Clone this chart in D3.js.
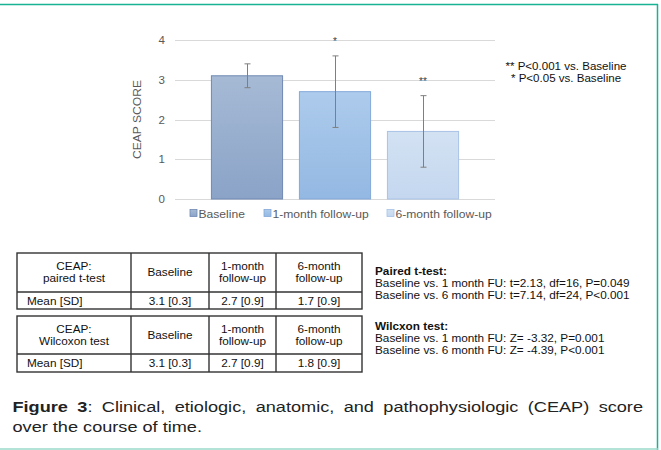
<!DOCTYPE html>
<html><head><meta charset="utf-8">
<script src="https://cdn.jsdelivr.net/npm/d3@7"></script>
<style>body{margin:0;background:#fff}svg{display:block;font-family:"Liberation Sans",Arial,sans-serif}</style>
</head><body>
<svg id="c" width="661" height="450"></svg>
<script>
const categories = ["Baseline", "1-month follow-up", "6-month follow-up"];
const means = [3.1, 2.7, 1.7];
const sds = [0.3, 0.9, 0.9];
const stars = ["", "*", "**"];
const yTicks = [0, 1, 2, 3, 4];
const sigNotes = ["** P<0.001 vs. Baseline", "* P<0.05 vs. Baseline"];
const table1Header = [["CEAP:", "paired t-test"], ["Baseline"], ["1-month", "follow-up"], ["6-month", "follow-up"]];
const table1Row = ["Mean [SD]", "3.1 [0.3]", "2.7 [0.9]", "1.7 [0.9]"];
const table2Header = [["CEAP:", "Wilcoxon test"], ["Baseline"], ["1-month", "follow-up"], ["6-month", "follow-up"]];
const table2Row = ["Mean [SD]", "3.1 [0.3]", "2.7 [0.9]", "1.8 [0.9]"];
const pairedText = ["Paired t-test:", "Baseline vs. 1 month FU: t=2.13, df=16, P=0.049", "Baseline vs. 6 month FU: t=7.14, df=24, P<0.001"];
const wilcoxText = ["Wilcxon test:", "Baseline vs. 1 month FU: Z= -3.32, P=0.001", "Baseline vs. 6 month FU: Z= -4.39, P<0.001"];
const captionBold = "Figure 3";
const captionLine1 = ": Clinical, etiologic, anatomic, and pathophysiologic (CEAP) score";
const captionLine2 = "over the course of time.";

const svg = d3.select("#c");

// text helper: horizontally stretched text (the reference type is slightly wide)
function txt(parent, x, y, s, o){
  o = Object.assign({size:10.5, anchor:"start", weight:"normal", fill:"#111", k:1.12}, o||{});
  const t = parent.append("text").attr("y", y).attr("fill", o.fill)
    .style("font-size", o.size+"px").style("font-weight", o.weight).text(s);
  const w = t.node().getComputedTextLength();
  const W = w*o.k;
  t.attr("textLength", W).attr("lengthAdjust","spacingAndGlyphs");
  const x0 = o.anchor==="middle" ? x - W/2 : o.anchor==="end" ? x - W : x;
  t.attr("x", x0);
  return t;
}

// frame
svg.append("line").attr("x1",0).attr("x2",658).attr("y1",4.5).attr("y2",4.5).attr("stroke","#17b394").attr("stroke-width",1.5);
svg.append("line").attr("x1",657.5).attr("x2",657.5).attr("y1",4).attr("y2",450).attr("stroke","#17b394").attr("stroke-width",1.5);
svg.append("line").attr("x1",0).attr("x2",658).attr("y1",449).attr("y2",449).attr("stroke","#9ad8c9").attr("stroke-width",1.5);

const fills = [["#a6bad5","#8aa3c7","#7089b4"],["#adcbec","#93b8e2","#83a9d8"],["#d3e2f3","#c4d7ef","#a9c3e6"]];
const defs = svg.append("defs");
fills.forEach((f,i)=>{
  const g = defs.append("linearGradient").attr("id","g"+i).attr("x1",0).attr("x2",0).attr("y1",0).attr("y2",1);
  g.append("stop").attr("offset","0%").attr("stop-color",f[0]);
  g.append("stop").attr("offset","100%").attr("stop-color",f[1]);
});

const y = d3.scaleLinear().domain([0,4]).range([199,40]);
const x = d3.scaleBand().domain(categories).range([175,495]).paddingInner(0.18).paddingOuter(0.408);

// gridlines
svg.append("g").selectAll("line").data(yTicks).join("line")
  .attr("x1",175).attr("x2",495).attr("y1",d=>Math.round(y(d))+0.5).attr("y2",d=>Math.round(y(d))+0.5)
  .attr("stroke","#d9d9d9").attr("stroke-width",1);

const yAxis = svg.append("g").attr("transform","translate(167,0)")
  .call(d3.axisLeft(y).tickValues(yTicks).tickSize(0).tickPadding(2).tickFormat(d3.format("d")));
yAxis.select(".domain").remove();
yAxis.selectAll("text").attr("fill","#595959").style("font-size","11.5px").style("font-family","Liberation Sans, Arial");

const yl = svg.append("g").attr("transform","translate(141,"+((y(0)+y(4))/2)+") rotate(-90)");
txt(yl, 0, 0, "CEAP SCORE", {size:11, anchor:"middle", fill:"#595959", k:1.1});

// bars
svg.append("g").selectAll("rect").data(categories).join("rect")
  .attr("x",d=>x(d)+0.5).attr("width",x.bandwidth()-1)
  .attr("y",(d,i)=>y(means[i])).attr("height",(d,i)=>y(0)-y(means[i]))
  .attr("fill",(d,i)=>"url(#g"+i+")").attr("stroke",(d,i)=>fills[i][2]).attr("stroke-width",1);

// error bars
const eb = svg.append("g").attr("stroke","#7f7f7f").attr("stroke-width",1);
categories.forEach((c,i)=>{
  const cx = Math.round(x(c)+x.bandwidth()/2)+0.5;
  const t = y(means[i]+sds[i]), b = y(means[i]-sds[i]);
  eb.append("line").attr("x1",cx).attr("x2",cx).attr("y1",t).attr("y2",b);
  eb.append("line").attr("x1",cx-3).attr("x2",cx+3).attr("y1",t).attr("y2",t);
  eb.append("line").attr("x1",cx-3).attr("x2",cx+3).attr("y1",b).attr("y2",b);
});
// stars
svg.append("g").selectAll("text").data(categories).join("text")
  .attr("x",d=>x(d)+x.bandwidth()/2).attr("y",(d,i)=>y(means[i]+sds[i])-11)
  .attr("text-anchor","middle").attr("fill","#404040").style("font-size","10px")
  .text((d,i)=>stars[i]);

// legend
const legX = [190, 264, 387];
const leg = svg.append("g");
categories.forEach((c,i)=>{
  leg.append("rect").attr("x",legX[i]).attr("y",209.5).attr("width",7).attr("height",7)
    .attr("fill","url(#g"+i+")").attr("stroke",fills[i][2]).attr("stroke-width",0.8);
  txt(leg, legX[i]+8.5, 217.5, c, {size:11, fill:"#595959", k:1.1});
});

// significance notes
sigNotes.forEach((d,i)=>txt(svg, 566, 70+i*11.8, d, {size:10.5, anchor:"middle", k:1.1}));

// tables
const colX = [17, 131, 209, 276, 362];
function table(top, mid, bottom, header, row){
  const g = svg.append("g");
  const ln = {stroke:"#333", w:1.4};
  g.append("rect").attr("x",colX[0]).attr("y",top).attr("width",colX[4]-colX[0]).attr("height",bottom-top)
    .attr("fill","none").attr("stroke",ln.stroke).attr("stroke-width",ln.w);
  g.append("line").attr("x1",colX[0]).attr("x2",colX[4]).attr("y1",mid).attr("y2",mid).attr("stroke",ln.stroke).attr("stroke-width",ln.w);
  colX.slice(1,4).forEach(cx=>g.append("line").attr("x1",cx).attr("x2",cx).attr("y1",top).attr("y2",bottom).attr("stroke",ln.stroke).attr("stroke-width",ln.w));
  header.forEach((lines,j)=>{
    const cx = (colX[j]+colX[j+1])/2, cy = (top+mid)/2;
    lines.forEach((l,k)=>{
      txt(g, cx, cy+3.5+(k-(lines.length-1)/2)*12, l, {anchor:"middle"});
    });
  });
  row.forEach((v,j)=>{
    const cy = (mid+bottom)/2+4;
    txt(g, j===0 ? colX[0]+10 : (colX[j]+colX[j+1])/2, cy, v, {anchor: j===0 ? "start" : "middle"});
  });
}
table(253, 292, 309, table1Header, table1Row);
table(316, 354, 372, table2Header, table2Row);

function block(lines, y0){
  lines.forEach((l,k)=>txt(svg, 375, y0+k*12.2, l, {weight: k===0?"bold":"normal"}));
}
block(pairedText, 275);
block(wilcoxText, 330);

// caption: line 1 justified
const capY1 = 411.5, capY2 = 431.5, left = 12.5, right = 643;
const K = 1.17, CS = 15.5;
const words = (captionBold + captionLine1).split(" ");
const cap = svg.append("g");
const items = words.map((w,i)=>{
  const t = cap.append("text").attr("y",capY1).attr("fill","#222").style("font-size",CS+"px");
  if(i===0){ t.append("tspan").style("font-weight","bold").text("Figure"); }
  else if(i===1){ t.append("tspan").style("font-weight","bold").text("3"); t.append("tspan").text(w.slice(1)); }
  else t.text(w);
  const W = t.node().getComputedTextLength()*K;
  t.attr("textLength",W).attr("lengthAdjust","spacingAndGlyphs");
  return {t, W};
});
const gap = (right-left-d3.sum(items,d=>d.W))/(words.length-1);
let cx = left;
items.forEach(d=>{ d.t.attr("x",cx); cx += d.W+gap; });
txt(svg, left, capY2, captionLine2, {size:CS, fill:"#222", k:K});
</script>
</body></html>
